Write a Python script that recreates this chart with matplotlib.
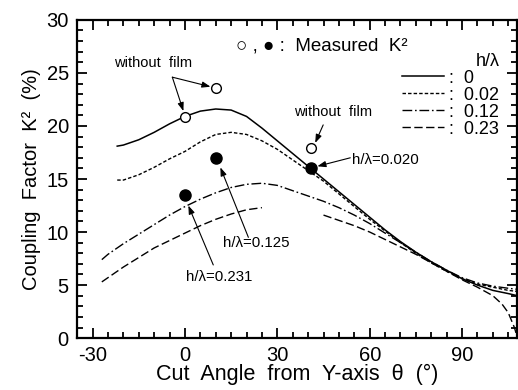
import numpy as np
import matplotlib.pyplot as plt
from matplotlib.ticker import MultipleLocator

plt.rcParams['font.family'] = ['Liberation Sans', 'DejaVu Sans']
plt.rcParams['axes.unicode_minus'] = False

# calculated K^2 curves (theta in degrees, K^2 in %)
x_h000 = [-22, -20, -15, -10, -5, 0, 5, 10, 15, 20, 25, 30, 35, 40, 45, 50, 55,
          60, 65, 70, 75, 80, 85, 90, 95, 100, 105, 108]
k_h000 = [18.1, 18.2, 18.7, 19.4, 20.2, 20.9, 21.4, 21.6, 21.5, 20.9, 19.8, 18.6,
          17.4, 16.2, 15.0, 13.8, 12.6, 11.4, 10.2, 9.1, 8.1, 7.2, 6.4, 5.6, 5.0,
          4.5, 4.2, 4.0]

x_h002 = [-22, -20, -15, -10, -5, 0, 5, 10, 15, 20, 25, 30, 35, 40, 45, 50, 55,
          60, 65, 70, 75, 80, 85, 90, 95, 100, 105, 108]
k_h002 = [14.9, 14.9, 15.4, 16.1, 16.9, 17.6, 18.5, 19.2, 19.4, 19.2, 18.6, 17.8,
          16.8, 15.8, 14.8, 13.6, 12.4, 11.2, 10.1, 9.0, 8.0, 7.1, 6.3, 5.6, 5.1,
          4.8, 4.5, 4.4]

x_h012 = [-27, -25, -20, -15, -10, -5, 0, 5, 10, 15, 20, 25, 30, 35, 40, 45, 50,
          55, 60, 65, 70, 75, 80, 85, 90, 95, 100, 105, 108]
k_h012 = [7.4, 7.9, 8.9, 9.8, 10.7, 11.6, 12.4, 13.1, 13.7, 14.2, 14.5, 14.6, 14.4,
          13.9, 13.4, 12.9, 12.3, 11.6, 10.8, 9.9, 9.0, 8.1, 7.2, 6.4, 5.7, 5.2,
          4.9, 4.7, 4.6]

x_h023 = [-27, -25, -20, -15, -10, -5, 0, 5, 10, 15, 20, 25, np.nan,
          45, 50, 55, 60, 65, 70, 75, 80, 85, 90, 95, 100, 103, 105, 107, 108]
k_h023 = [5.3, 5.7, 6.7, 7.6, 8.5, 9.2, 9.9, 10.6, 11.2, 11.7, 12.1, 12.3, np.nan,
          11.6, 11.1, 10.6, 10.0, 9.3, 8.6, 7.9, 7.1, 6.3, 5.5, 4.8, 4.0, 3.2, 2.4,
          1.0, 0.0]

# measured K^2
x_meas = [0, 10, 41]
k_open = [20.8, 23.6, 17.9]     # without film
k_fill = [13.5, 17.0, 16.0]     # with film

fig = plt.figure(figsize=(5.18, 3.90), dpi=100)
ax = fig.add_axes([0.149, 0.133, 0.850, 0.816])

ax.plot(x_h000, k_h000, 'k-', lw=1.1, label=':  0')
ax.plot(x_h002, k_h002, 'k', lw=1.0, dashes=(2.5, 1.5), label=':  0.02')
ax.plot(x_h012, k_h012, 'k', lw=1.0, dashes=(7, 2, 1.2, 2), label=':  0.12')
ax.plot(x_h023, k_h023, 'k', lw=1.0, dashes=(6, 2.5), label=':  0.23')

ax.plot(x_meas, k_open, 'o', ms=7, mfc='white', mec='k', mew=1.0, zorder=5)
ax.plot(x_meas, k_fill, 'o', ms=8, mfc='k', mec='k', zorder=5)

leg = ax.legend(loc='upper right', bbox_to_anchor=(0.975, 0.92), frameon=False,
                fontsize=13, handlelength=2.3, handletextpad=0.3,
                labelspacing=0.0, title='h/λ', title_fontsize=13,
                alignment='right', borderaxespad=0)

ax.text(16.5, 27.5, '○ , ● :  Measured  K²', fontsize=13.5, va='center')

arr = dict(arrowstyle='-|>,head_length=0.5,head_width=0.18', color='k', lw=0.8,
           shrinkA=0, shrinkB=0)
ax.text(-10.5, 25.9, 'without  film', fontsize=10.5, ha='center', va='center')
ax.annotate('', xy=(-0.5, 21.4), xytext=(-4.1, 24.6), arrowprops=arr)
ax.annotate('', xy=(8.3, 23.7), xytext=(-4.1, 24.6), arrowprops=arr)

ax.text(48.2, 21.3, 'without  film', fontsize=10.5, ha='center', va='center')
ax.annotate('', xy=(42.3, 18.4), xytext=(44.9, 20.1), arrowprops=arr)

ax.text(54.3, 16.8, 'h/λ=0.020', fontsize=10.8, ha='left', va='center')
ax.annotate('', xy=(43.0, 16.2), xytext=(53.7, 17.0), arrowprops=arr)

ax.text(12.2, 9.0, 'h/λ=0.125', fontsize=10.8, ha='left', va='center')
ax.annotate('', xy=(11.5, 16.1), xytext=(20.6, 9.5), arrowprops=arr)

ax.text(0.2, 5.8, 'h/λ=0.231', fontsize=10.8, ha='left', va='center')
ax.annotate('', xy=(1.1, 12.5), xytext=(9.2, 6.9), arrowprops=arr)

ax.set_xlim(-35, 108)
ax.set_ylim(0, 30)
ax.xaxis.set_major_locator(MultipleLocator(30))
ax.xaxis.set_minor_locator(MultipleLocator(5))
ax.yaxis.set_major_locator(MultipleLocator(5))
ax.yaxis.set_minor_locator(MultipleLocator(1))
ax.tick_params(which='both', direction='in', top=True, right=True, width=1.3,
               labelsize=14.5)
ax.tick_params(which='major', length=7, pad=6)
ax.tick_params(which='minor', length=4)
for s in ax.spines.values():
    s.set_linewidth(1.6)

ax.set_xlabel('Cut  Angle  from  Y-axis  θ  (°)', fontsize=15.5, labelpad=-1)
ax.set_ylabel('Coupling  Factor  K²  (%)', fontsize=14.5, labelpad=4)

fig.savefig('out.png', dpi=100)
